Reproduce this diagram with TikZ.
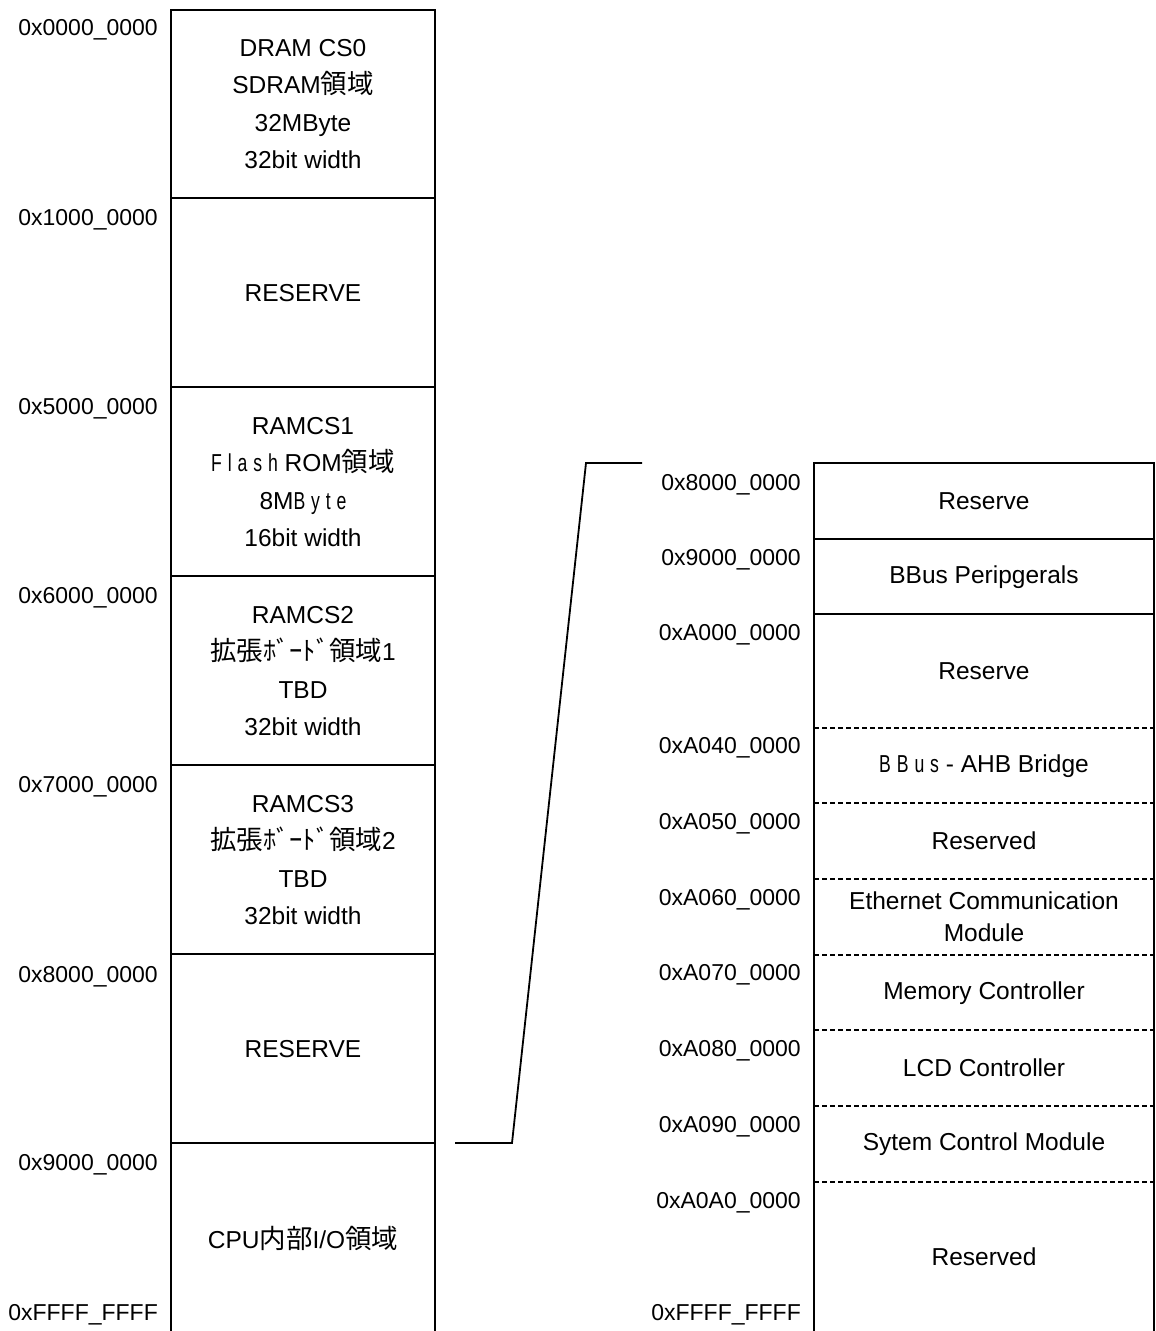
\documentclass[tikz,border=0pt]{standalone}
\usepackage{fontspec}
\setmainfont{Liberation Sans}
\newfontfamily\jp[Scale=1.08]{Noto Sans CJK JP}
\newfontfamily\narrowf[FakeStretch=0.72,LetterSpace=24]{Liberation Sans}
\begin{document}
\begin{tikzpicture}[x=1pt,y=-1pt,
  frame/.style={line width=1.8pt, line cap=rect},
  divider/.style={line width=1.8pt},
  dashdiv/.style={line width=1.4pt, dash pattern=on 5pt off 3pt},
  conn/.style={line width=1.8pt},
  addr/.style={anchor=east, inner sep=0pt, font=\fontsize{23}{28}\selectfont},
  lbl/.style={align=center, inner sep=0pt, font=\fontsize{24.5}{37.5}\selectfont},
  rlbl/.style={align=center, inner sep=0pt, font=\fontsize{24.5}{32}\selectfont}]
\useasboundingbox (0,0) rectangle (1156,1331);

% ---- left column ----
\draw[frame] (171,1331) -- (171,10) -- (435,10) -- (435,1331);
\foreach \yy in {198,387,576,765,954,1143}
  \draw[divider] (171,\yy) -- (435,\yy);

\node[lbl] (l1) at (303,104) {DRAM CS0\\SDRAM{\jp 領域}\\32MByte\\32bit width};
\node[lbl] (l2) at (303,293) {RESERVE};
\node[lbl] (l3) at (303,482) {RAMCS1\\{\narrowf Flash}\ ROM{\jp 領域}\\8M{\narrowf Byte}\\16bit width};
\node[lbl] (l4) at (303,671) {RAMCS2\\{\jp 拡張ﾎﾞｰﾄﾞ領域}1\\TBD\\32bit width};
\node[lbl] (l5) at (303,860) {RAMCS3\\{\jp 拡張ﾎﾞｰﾄﾞ領域}2\\TBD\\32bit width};
\node[lbl] (l6) at (303,1049) {RESERVE};
\node[lbl] (l7) at (303,1238) {CPU{\jp 内部}I/O{\jp 領域}};

\node[addr] (a1) at (158,30) {0x0000\_0000};
\node[addr] (a2) at (158,220) {0x1000\_0000};
\node[addr] (a3) at (158,409) {0x5000\_0000};
\node[addr] (a4) at (158,598) {0x6000\_0000};
\node[addr] (a5) at (158,787) {0x7000\_0000};
\node[addr] (a6) at (158,977) {0x8000\_0000};
\node[addr] (a7) at (158,1165) {0x9000\_0000};
\node[addr] (a8) at (158,1315) {0xFFFF\_FFFF};

% ---- right column ----
\draw[frame] (814,1331) -- (814,463) -- (1154,463) -- (1154,1331);
\draw[divider] (814,539) -- (1154,539);
\draw[divider] (814,614) -- (1154,614);
\foreach \yy in {728,803,879,955,1030,1106,1182}
  \draw[dashdiv] (814,\yy) -- (1154,\yy);

\node[rlbl] (r1) at (984,501) {Reserve};
\node[rlbl] (r2) at (984,577) {BBus Peripgerals};
\node[rlbl] (r3) at (984,671) {Reserve};
\node[rlbl] (r4) at (984,766) {{\narrowf BBus}\ - AHB Bridge};
\node[rlbl] (r5) at (984,841) {Reserved};
\node[rlbl] (r6) at (984,917) {Ethernet Communication\\Module};
\node[rlbl] (r7) at (984,993) {Memory Controller};
\node[rlbl] (r8) at (984,1068) {LCD Controller};
\node[rlbl] (r9) at (984,1144) {Sytem Control Module};
\node[rlbl] (r10) at (984,1257) {Reserved};

\node[addr] (b1) at (801,485) {0x8000\_0000};
\node[addr] (b2) at (801,560) {0x9000\_0000};
\node[addr] (b3) at (801,635) {0xA000\_0000};
\node[addr] (b4) at (801,748) {0xA040\_0000};
\node[addr] (b5) at (801,824) {0xA050\_0000};
\node[addr] (b6) at (801,900) {0xA060\_0000};
\node[addr] (b7) at (801,975) {0xA070\_0000};
\node[addr] (b8) at (801,1051) {0xA080\_0000};
\node[addr] (b9) at (801,1127) {0xA090\_0000};
\node[addr] (b10) at (801,1203) {0xA0A0\_0000};
\node[addr] (b11) at (801,1315) {0xFFFF\_FFFF};

% ---- connector ----
\coordinate (c1) at (455,1143);
\coordinate (c2) at (512,1143);
\coordinate (c3) at (586,463);
\coordinate (c4) at (642,463);
\draw[conn] (c1) -- (c2) -- (c3) -- (c4);
\end{tikzpicture}
\end{document}
